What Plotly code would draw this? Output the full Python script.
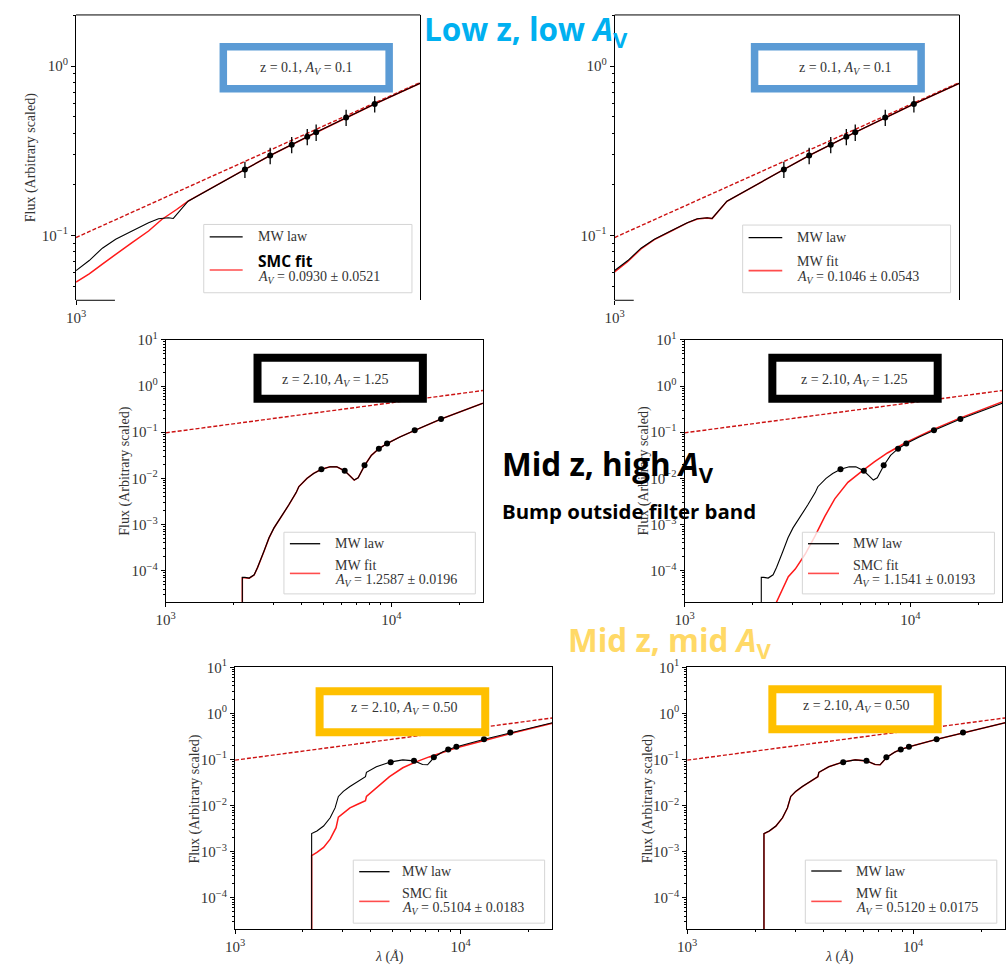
import plotly.graph_objects as go

W, H = 1007, 967

# ---------------- data ----------------
filter_wave = [4900, 6215, 7610, 8810, 9580, 12700, 16620]

intrinsic_wave = [1000, 25500]
intrinsic_flux = [0.097, 0.80]

# Low z (z = 0.1), A_V = 0.1
lowz_wave = [1000, 1132, 1281, 1452, 1694, 1979, 2173, 2385, 2498, 2698, 2871,
             4900, 6215, 9580, 16620, 25500]
lowz_mw_law = [0.0619, 0.0709, 0.0839, 0.0948, 0.1061, 0.1187, 0.1252, 0.1270,
               0.1257, 0.142, 0.159, 0.245, 0.296, 0.406, 0.597, 0.792]
lowz_mw_fit = [0.0608, 0.0700, 0.0831, 0.0942, 0.1056, 0.1183, 0.1249, 0.1267,
               0.1255, 0.1418, 0.1588, 0.245, 0.296, 0.406, 0.597, 0.792]
lowz_smc_wave = [1000, 1132, 1281, 1452, 1694, 1979, 2240, 2576, 2871,
                 4900, 6215, 9580, 16620, 25500]
lowz_smc_fit = [0.0529, 0.0591, 0.0676, 0.0774, 0.0906, 0.106, 0.124, 0.142,
                0.159, 0.245, 0.296, 0.405, 0.597, 0.792]
lowz_flux = [0.245, 0.296, 0.343, 0.382, 0.406, 0.497, 0.597]
lowz_err = [0.027, 0.033, 0.038, 0.042, 0.045, 0.055, 0.066]

# Mid z (z = 2.10), high A_V = 1.25
high_wave = [2186, 2186, 2244, 2345, 2466, 2553, 2728, 2871, 3020, 3228, 3514,
             3786, 3890, 4230, 4525, 4906, 5356, 5731, 6210, 6555, 6850, 7130,
             7629, 8160, 8815, 9590, 10870, 12730, 16630, 25470]
high_mw_law = [1e-5, 7.2e-5, 7.2e-5, 6.96e-5, 8.2e-5, 1.18e-4, 2.68e-4, 5.18e-4,
               8.49e-4, 1.39e-3, 2.68e-3, 4.93e-3, 6.62e-3, 0.0100, 0.0128,
               0.0158, 0.0179, 0.0178, 0.0146, 0.0114, 0.0092, 0.0103, 0.0193,
               0.0316, 0.0440, 0.0571, 0.0782, 0.110, 0.193, 0.425]
high_mw_fit = [1e-5, 7.1e-5, 7.1e-5, 6.9e-5, 8.1e-5, 1.17e-4, 2.66e-4, 5.15e-4,
               8.45e-4, 1.38e-3, 2.67e-3, 4.91e-3, 6.60e-3, 0.0100, 0.0128,
               0.0158, 0.0179, 0.0178, 0.0146, 0.0114, 0.0092, 0.0103, 0.0193,
               0.0316, 0.0440, 0.0571, 0.0782, 0.110, 0.193, 0.425]
high_smc_wave = [2541, 2701, 2879, 3090, 3416, 3778, 4178, 4622, 5284, 6043,
                 6915, 7907, 8746, 9508, 12560, 16440, 25420]
high_smc_fit = [2.0e-5, 3.73e-5, 7.43e-5, 1.09e-4, 2.28e-4, 5.62e-4, 1.51e-3,
                3.61e-3, 8.2e-3, 0.0139, 0.0228, 0.0355, 0.0477, 0.0591, 0.114,
                0.200, 0.454]
high_flux = [0.0158, 0.0146, 0.0193, 0.0440, 0.0571, 0.110, 0.193]

# Mid z (z = 2.10), mid A_V = 0.50
mid_wave = [2186, 2186, 2307, 2469, 2641, 2777, 2872, 3021, 3232, 3516, 3787,
            3825, 4232, 4529, 4926, 5544, 6217, 6785, 7140, 7638, 8309, 8829,
            9603, 12750, 16640, 25530]
mid_mw_law = [1e-5, 2.47e-3, 2.82e-3, 3.61e-3, 5.44e-3, 8.91e-3, 0.0158, 0.0203,
              0.0259, 0.0332, 0.0425, 0.0526, 0.0697, 0.0782, 0.0891, 0.0984,
              0.0936, 0.0782, 0.0769, 0.112, 0.146, 0.166, 0.190, 0.277, 0.385,
              0.631]
mid_mw_fit = [1e-5, 2.45e-3, 2.80e-3, 3.59e-3, 5.41e-3, 8.88e-3, 0.0157, 0.0202,
              0.0258, 0.0331, 0.0424, 0.0525, 0.0696, 0.0781, 0.0890, 0.0983,
              0.0935, 0.0781, 0.0768, 0.112, 0.146, 0.166, 0.190, 0.277, 0.385,
              0.631]
mid_smc_wave = [2186, 2186, 2307, 2469, 2641, 2805, 2872, 3021, 3232, 3516, 3787,
                3825, 4232, 4841, 5544, 6343, 7256, 8309, 9603, 12750, 16640, 25530]
mid_smc_fit = [1e-5, 8.2e-4, 9.68e-4, 1.24e-3, 1.87e-3, 3.32e-3, 5.62e-3, 6.97e-3,
               8.91e-3, 0.01086, 0.0128, 0.0158, 0.0239, 0.0425, 0.0663, 0.0891,
               0.114, 0.141, 0.181, 0.259, 0.366, 0.611]
mid_flux = [0.0877, 0.0936, 0.112, 0.166, 0.190, 0.277, 0.385]

z_labels = ["z = 0.1, <i>A<sub>V</sub></i> = 0.1", "z = 0.1, <i>A<sub>V</sub></i> = 0.1",
            "z = 2.10, <i>A<sub>V</sub></i> = 1.25", "z = 2.10, <i>A<sub>V</sub></i> = 1.25",
            "z = 2.10, <i>A<sub>V</sub></i> = 0.50", "z = 2.10, <i>A<sub>V</sub></i> = 0.50"]
fit_names = ["SMC fit", "MW fit", "MW fit", "SMC fit", "SMC fit", "MW fit"]
fit_av = ["0.0930 ± 0.0521", "0.1046 ± 0.0543", "1.2587 ± 0.0196",
          "1.1541 ± 0.0193", "0.5104 ± 0.0183", "0.5120 ± 0.0175"]
law_name = "MW law"

# ---------------- layout helpers ----------------
def PX(x):
    return x / W


def PY(y):
    return 1 - y / H


SERIF = "Liberation Serif"
SANS = "Open Sans"
TXT = "#333333"
RED = "#ff1a1a"
DASH_RED = "#cc1111"

# pixel boxes of each panel's plotting area: (left, right, top, bottom)
boxes = [(66.7, 414.3, 5, 293.3), (610.7, 959, 5, 293.3),
         (157.3, 477.7, 333.3, 598.3), (681.3, 1002.3, 333.3, 598.3),
         (227.3, 547.7, 664.3, 929.0), (684.0, 1005.0, 664.3, 929.0)]
yranges = [(-1.384, 0.302), (-1.384, 0.302), (-4.678, 1.0), (-4.678, 1.0),
           (-4.688, 1.0), (-4.688, 1.0)]

curves = [
    (lowz_wave, lowz_mw_law, lowz_smc_wave, lowz_smc_fit, lowz_flux, lowz_err),
    (lowz_wave, lowz_mw_law, lowz_wave, lowz_mw_fit, lowz_flux, lowz_err),
    (high_wave, high_mw_law, high_wave, high_mw_fit, high_flux, None),
    (high_wave, high_mw_law, high_smc_wave, high_smc_fit, high_flux, None),
    (mid_wave, mid_mw_law, mid_smc_wave, mid_smc_fit, mid_flux, None),
    (mid_wave, mid_mw_law, mid_wave, mid_mw_fit, mid_flux, None),
]

fig = go.Figure()
shapes = []
annots = []

minor_y = [m * 10 ** e for e in range(-5, 2) for m in range(2, 10)]
minor_x = [m * 10 ** e for e in range(3, 5) for m in range(2, 10)]
tick_font = dict(family=SERIF, size=15, color=TXT)

for i, (box, yr, cv) in enumerate(zip(boxes, yranges, curves)):
    n = i + 1
    xa = "x" if n == 1 else f"x{n}"
    ya = "y" if n == 1 else f"y{n}"
    law_w, law_f, fit_w, fit_f, pts, errs = cv
    # intrinsic spectrum (dashed)
    fig.add_trace(go.Scatter(x=intrinsic_wave, y=intrinsic_flux, mode="lines",
                             line=dict(color=DASH_RED, width=1.4, dash="4px,2px"),
                             xaxis=xa, yaxis=ya, showlegend=False))
    # fitted law (red) and true law (black)
    fig.add_trace(go.Scatter(x=fit_w, y=fit_f, mode="lines",
                             line=dict(color=RED, width=1.5),
                             xaxis=xa, yaxis=ya, showlegend=False))
    fig.add_trace(go.Scatter(x=law_w, y=law_f, mode="lines",
                             line=dict(color="black", width=1.1),
                             xaxis=xa, yaxis=ya, showlegend=False))
    ekw = {}
    if errs is not None:
        ekw["error_y"] = dict(type="data", array=errs, color="black",
                              thickness=1.3, width=0)
    fig.add_trace(go.Scatter(x=filter_wave, y=pts, mode="markers",
                             marker=dict(color="black", size=6),
                             xaxis=xa, yaxis=ya, showlegend=False, **ekw))

    x0, x1, y0, y1 = box
    top = n <= 2
    xkey = "xaxis" if n == 1 else f"xaxis{n}"
    ykey = "yaxis" if n == 1 else f"yaxis{n}"
    xaxis = dict(domain=[PX(x0), PX(x1)], type="log", range=[3, 4.4065],
                 anchor=ya, showgrid=False, zeroline=False,
                 ticks="outside", ticklen=4, tickcolor="black",
                 tickfont=tick_font,
                 tickvals=[1000] if top else [1000, 10000],
                 ticktext=["10<sup>3</sup>"] if top else ["10<sup>3</sup>", "10<sup>4</sup>"])
    if top:
        xaxis.update(showline=False)
    else:
        xaxis.update(showline=True, mirror=True, linecolor="black", linewidth=1,
                     minor=dict(tickvals=minor_x, ticks="outside", ticklen=2,
                                tickcolor="black", showgrid=False))
    yticks = [0.1, 1] if top else [1e-4, 1e-3, 1e-2, 1e-1, 1, 10]
    ytext = {1e-4: "10<sup>−4</sup>", 1e-3: "10<sup>−3</sup>", 1e-2: "10<sup>−2</sup>",
             0.1: "10<sup>−1</sup>", 1: "10<sup>0</sup>", 10: "10<sup>1</sup>"}
    yaxis = dict(domain=[PY(y1), PY(y0)], type="log", range=list(yr), anchor=xa,
                 showgrid=False, zeroline=False, showline=True, mirror=True,
                 linecolor="black", linewidth=1, ticks="outside", ticklen=4,
                 tickcolor="black", tickfont=tick_font, tickvals=yticks,
                 ticktext=[ytext[v] for v in yticks],
                 minor=dict(tickvals=minor_y, ticks="outside", ticklen=2,
                            tickcolor="black", showgrid=False))
    fig.update_layout({xkey: xaxis, ykey: yaxis})
    if top:
        shapes.append(dict(type="line", xref="paper", yref="paper",
                           x0=PX(x0), x1=PX(x1), y0=PY(y0), y1=PY(y0),
                           line=dict(color="black", width=1)))

# visible stubs of the top panels' bottom spines (rest hidden by the middle images)
for (a, b) in [(66.7, 106), (610.7, 630)]:
    shapes.append(dict(type="line", xref="paper", yref="paper", x0=PX(a), x1=PX(b),
                       y0=PY(293.3), y1=PY(293.3), line=dict(color="black", width=1)))


def note(x, y, text, font, xanchor="center", yanchor="middle", **kw):
    d = dict(x=PX(x), y=PY(y), xref="paper", yref="paper", text=text,
             showarrow=False, font=font, xanchor=xanchor, yanchor=yanchor)
    d.update(kw)
    annots.append(d)


serif14 = dict(family=SERIF, size=14, color=TXT)

# axis titles
for (x, y) in [(22, 149), (116.7, 466), (640.7, 466), (186.7, 797), (644, 797)]:
    note(x, y, "Flux (Arbitrary scaled)", serif14, textangle=-90)
for (x, y) in [(383, 957), (838, 957)]:
    note(x, y, "<i>λ</i> (<i>Å</i>)", serif14)

# coloured frames around the z / A_V labels
zboxes = [((211.7, 386.7, 33.3, 83.3), "#5B9BD5", 7.5, (299.7, 59)),
          ((748.3, 924.0, 33.3, 83.3), "#5B9BD5", 7.5, (843.5, 59)),
          ((246.0, 421.0, 347.3, 396.7), "#000000", 8, (328.5, 374)),
          ((766.0, 941.0, 347.3, 396.7), "#000000", 8, (852.5, 374)),
          ((308.7, 484.0, 684.3, 733.7), "#FFC000", 8, (398.5, 706)),
          ((766.0, 941.0, 682.3, 730.7), "#FFC000", 8, (855.0, 704))]
for k, ((a, b, c, d), col, t, (tx, ty)) in enumerate(zboxes):
    h = t / 2
    shapes.append(dict(type="rect", xref="paper", yref="paper", layer="above",
                       x0=PX(a + h), x1=PX(b - h), y0=PY(c + h), y1=PY(d - h),
                       line=dict(color=col, width=t), fillcolor="white"))
    note(tx, ty, z_labels[k], serif14)

# legends: (frame, sample x-range, text x, rows y)
legs = [((195.7, 406, 216.7, 285.7), (201.7, 235), 248.3, (229.3, 253.3, 270.7, 262.7)),
        ((740, 950, 217.3, 285.7), (746, 780), 793.3, (230, 254, 270.7, 263.3)),
        ((276.7, 470, 527.7, 590), (282.7, 313.3), 326, (539.3, 561.7, 576.7, 569.3)),
        ((800.3, 994.3, 527.7, 590), (806, 837.3), 849.3, (539.3, 561.7, 576.7, 569.3)),
        ((346.7, 540, 859, 922.7), (352.7, 383.3), 394, (870.7, 892.3, 907.7, 900.7)),
        ((803.3, 996.7, 859, 922.7), (809.3, 840), 852.3, (870, 892.3, 907.7, 900.7))]
for k, ((a, b, c, d), (s0, s1), tx, (r1, r2, r3, rr)) in enumerate(legs):
    shapes.append(dict(type="rect", xref="paper", yref="paper", layer="above",
                       x0=PX(a), x1=PX(b), y0=PY(c), y1=PY(d),
                       line=dict(color="#d5d5d5", width=1),
                       fillcolor="rgba(255,255,255,0.8)"))
    shapes.append(dict(type="line", xref="paper", yref="paper", layer="above",
                       x0=PX(s0), x1=PX(s1), y0=PY(r1), y1=PY(r1),
                       line=dict(color="black", width=1.3)))
    shapes.append(dict(type="line", xref="paper", yref="paper", layer="above",
                       x0=PX(s0), x1=PX(s1), y0=PY(rr), y1=PY(rr),
                       line=dict(color="#ff4d4d", width=1.6)))
    note(tx, r1, law_name, serif14, xanchor="left")
    if k == 0:
        note(tx, r2, "<b>" + fit_names[k] + "</b>",
             dict(family=SANS, size=15.5, color="black"), xanchor="left")
    else:
        note(tx, r2, fit_names[k], serif14, xanchor="left")
    note(tx, r3, "<i>A<sub>V</sub></i> = " + fit_av[k], serif14, xanchor="left")

# slide headings
heads = [("Low z, low <i>A</i><sub>V</sub>", "#00B0F0", 31.5, 416, 21),
         ("Mid z, high <i>A</i><sub>V</sub>", "#000000", 31.5, 495, 460),
         ("Bump outside filter band", "#000000", 20.4, 495, 506),
         ("Mid z, mid <i>A</i><sub>V</sub>", "#FFD966", 31.5, 562, 638)]
for (t, col, sz, x, y) in heads:
    note(x, y, "<b>" + t + "</b>", dict(family=SANS, size=sz, color=col),
         xanchor="left")

fig.update_layout(width=W, height=H, margin=dict(l=0, r=0, t=0, b=0),
                  paper_bgcolor="white", plot_bgcolor="white",
                  shapes=shapes, annotations=annots, showlegend=False)

fig.write_html("out.html",
               post_script="document.body.style.margin='0';document.body.style.padding='0';")
